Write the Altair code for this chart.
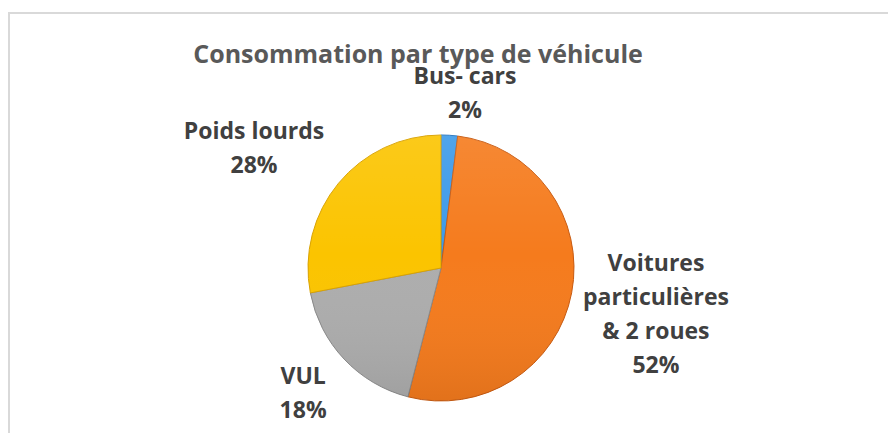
import altair as alt
import pandas as pd

# ---- data ----
categories = ["Bus- cars", "Voitures particulières & 2 roues", "VUL", "Poids lourds"]
values = [2, 52, 18, 28]
label_names = ["Bus- cars", "Voitures\nparticulières\n& 2 roues", "VUL", "Poids lourds"]
title_text = "Consommation par type de véhicule"

# ---- styling / layout (kept apart from the data) ----
colors = ["#3d9ae8", "#f57b1d", "#adadad", "#fbc400"]
edge_colors = ["#2a78c0", "#c85a10", "#8a8a8a", "#d9a200"]
label_nudge = [0.99, -3.30, 1.33, -1.01]     # angular nudge of the first label line, in percent-of-pie units
label_radius = [192, 215, 176, 231]          # distance of the first label line from the pie centre (px)
CX, CY, R = 433, 260, 133
FONT = "Open Sans"

total = sum(values)
cum = []
acc = 0
for v in values:
    cum.append(acc + v / 2)
    acc += v

df = pd.DataFrame({
    "idx": list(range(len(categories))),
    "category": categories,
    "value": values,
    "label_text": [f"{n}\n{v}%" for n, v in zip(label_names, values)],
    "label_theta": [c / total * 100 + n for c, n in zip(cum, label_nudge)],
    "label_r": label_radius,
})

base = alt.Chart(df)
one = pd.DataFrame({"a": [0]})

frame = alt.Chart(one).mark_rect(
    filled=False, stroke="#d9d9d9", strokeWidth=2
).encode(x=alt.value(1), x2=alt.value(3000), y=alt.value(5), y2=alt.value(3000))

pie = base.mark_arc(radius=R, strokeWidth=1).encode(
    theta=alt.Theta("value:Q", stack=True, scale=alt.Scale(domain=[0, 100])),
    color=alt.Color("category:N", scale=alt.Scale(domain=categories, range=colors), legend=None),
    stroke=alt.Stroke("category:N", scale=alt.Scale(domain=categories, range=edge_colors), legend=None),
    order=alt.Order("idx:Q"),
    x=alt.value(CX),
    y=alt.value(CY),
)

# soft top-light / bottom-dark shading over the whole pie
shade = alt.Chart(one).mark_arc(
    radius=R,
    fill=alt.Gradient(
        gradient="linear", x1=0, y1=0, x2=0, y2=1,
        stops=[
            alt.GradientStop(color="rgba(255,255,255,0.10)", offset=0),
            alt.GradientStop(color="rgba(255,255,255,0)", offset=0.45),
            alt.GradientStop(color="rgba(0,0,0,0.08)", offset=1),
        ],
    ),
).encode(
    theta=alt.value(0), theta2=alt.value(6.2832),
    x=alt.value(CX), y=alt.value(CY),
)

labels = base.mark_text(
    font=FONT, fontSize=23, fontWeight="bold", color="#404040",
    lineBreak="\n", lineHeight=34, align="center", baseline="middle",
).encode(
    theta=alt.Theta("label_theta:Q", scale=alt.Scale(domain=[0, 100])),
    radius=alt.Radius("label_r:Q", scale=None),
    text="label_text:N",
    x=alt.value(CX),
    y=alt.value(CY),
)

title = alt.Chart(pd.DataFrame({"t": [title_text]})).mark_text(
    font=FONT, fontSize=25, fontWeight="bold", color="#595959",
    align="center", baseline="alphabetic",
).encode(text="t:N", x=alt.value(410), y=alt.value(55))

chart = alt.layer(frame, pie, shade, title, labels).properties(
    width=880, height=425,
    autosize=alt.AutoSizeParams(type="none"),
    padding=0,
    background="white",
).configure_view(strokeWidth=0)

chart.save("out.html", embed_options={"renderer": "svg", "actions": False})
